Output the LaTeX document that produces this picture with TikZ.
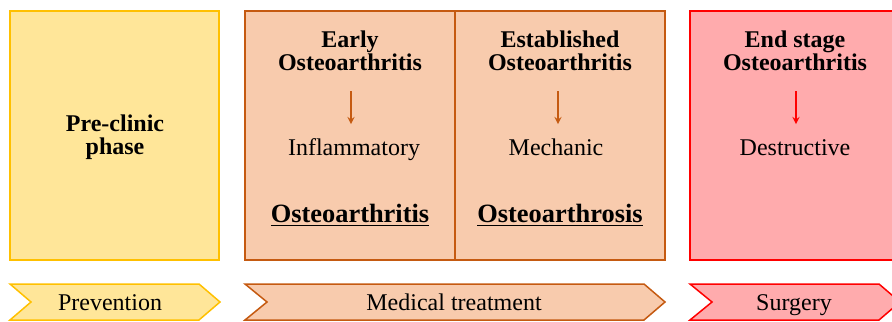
\documentclass[tikz,border=0pt]{standalone}
\usepackage{fontspec}
\setmainfont{Liberation Serif}
\usepackage{xcolor}
\usetikzlibrary{positioning, arrows}

\definecolor{preFill}{HTML}{FFE699}
\definecolor{preLine}{HTML}{FFC000}
\definecolor{medFill}{HTML}{F8CBAD}
\definecolor{medLine}{HTML}{C55A11}
\definecolor{surFill}{HTML}{FFABAD}
\definecolor{surLine}{HTML}{FF0000}

\tikzset{
  stage/.style={line width=0.75pt},
  title/.style={font=\fontsize{12}{11.5}\selectfont\bfseries, align=center, inner sep=0pt},
  kind/.style={font=\fontsize{12}{12.5}\selectfont, inner sep=0pt, text height=8pt, text depth=2.5pt},
  term/.style={font=\fontsize{13.2}{14}\selectfont\bfseries, inner sep=0pt, text height=9pt, text depth=3.5pt},
  flow/.style={->, >=stealth, line width=0.6pt, shorten <=10pt, shorten >=7.5pt}
}

\begin{document}
\begin{tikzpicture}[x=0.5pt, y=-0.5pt]
      \useasboundingbox (0,0) rectangle (892,321);
      \clip (0,0) rectangle (892,321);

      % phase boxes
      \draw[stage, draw=preLine, fill=preFill] (10,11) rectangle (219,260);
      \draw[stage, draw=medLine, fill=medFill] (245,11) rectangle (665,260);
      \draw[stage, draw=medLine] (455,11) -- (455,260);
      \draw[stage, draw=surLine, fill=surFill] (690,11) rectangle (910,260);

      % chevrons
      \draw[stage, draw=preLine, fill=preFill] (10,284) -- (199,284) -- (220,302) -- (199,320) -- (10,320) -- (31,302) -- cycle;
      \draw[stage, draw=medLine, fill=medFill] (245,284) -- (644,284) -- (665,302) -- (644,320) -- (245,320) -- (267,302) -- cycle;
      \draw[stage, draw=surLine, fill=surFill] (690,284) -- (879,284) -- (900,302) -- (879,320) -- (690,320) -- (712,302) -- cycle;

      \node[title] (pre) at (115,137) {Pre-clinic\\phase};

      \node[title] (early) at (350,51) {Early\\Osteoarthritis};
      \node[title] (established) at (560,51) {Established\\Osteoarthritis};
      \node[title] (endstage) at (795,51) {End stage\\Osteoarthritis};

      \node[kind] (inflammatory) at (354,150) {Inflammatory};
      \node[kind] (mechanic) at (556,150) {Mechanic};
      \node[kind] (destructive) at (795,150) {Destructive};

      \node[term] (arthritis) at (350,217) {\underline{Osteoarthritis}};
      \node[term] (arthrosis) at (560,217) {\underline{Osteoarthrosis}};

      \draw[flow, medLine] (early.south -| 351,0) -- (inflammatory.north -| 351,0);
      \draw[flow, medLine] (established.south -| 558,0) -- (mechanic.north -| 558,0);
      \draw[flow, surLine] (endstage.south -| 796,0) -- (destructive.north -| 796,0);

      \node[kind] (prevention) at (110,305) {Prevention};
      \node[kind] (medical) at (454,305) {Medical treatment};
      \node[kind] (surgery) at (794,305) {Surgery};
    \end{tikzpicture}
\end{document}
